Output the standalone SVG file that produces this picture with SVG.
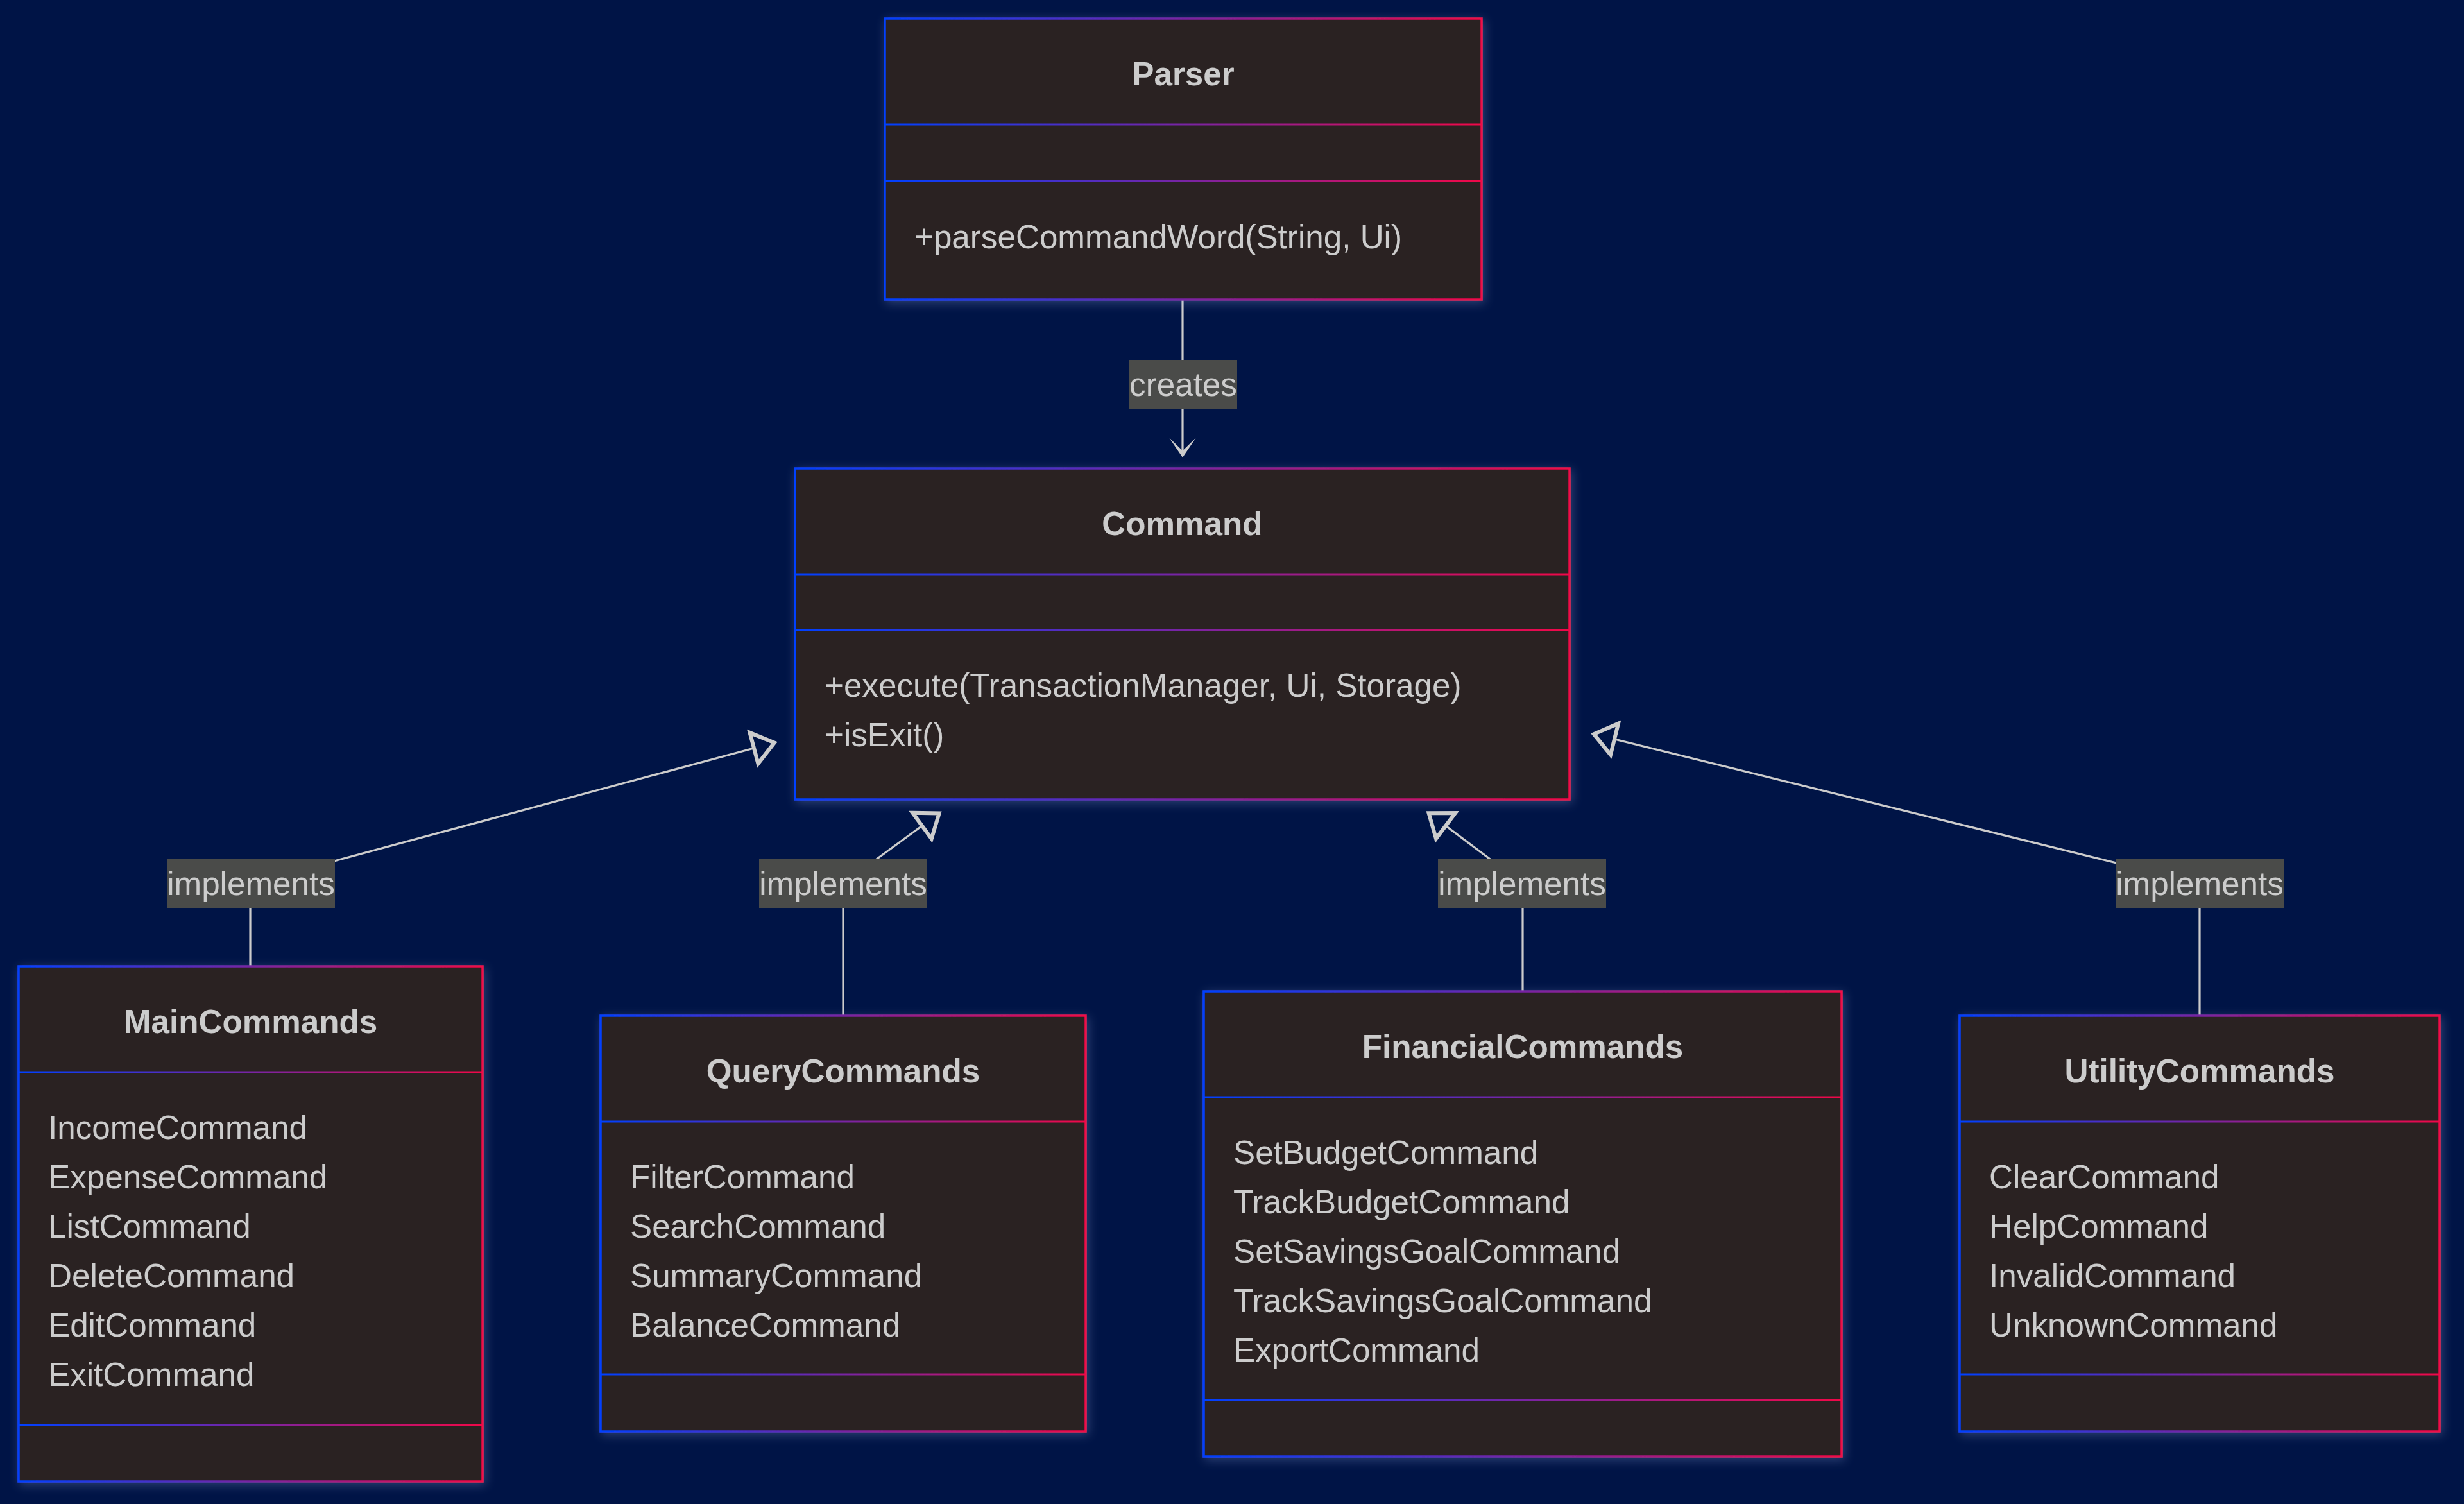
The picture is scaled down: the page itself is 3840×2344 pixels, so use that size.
<svg xmlns="http://www.w3.org/2000/svg" width="3840" height="2344" viewBox="0 0 3840 2344">
  <defs>
    <linearGradient id="edgeGrad" x1="0" y1="0" x2="1" y2="0">
      <stop offset="0" stop-color="#0040ff"/>
      <stop offset="1" stop-color="#f00848"/>
    </linearGradient>
    <filter id="glow" x="-10%" y="-10%" width="120%" height="120%">
      <feGaussianBlur in="SourceAlpha" stdDeviation="8" result="blur"/>
      <feOffset in="blur" dx="3" dy="4" result="off"/>
      <feFlood flood-color="#9fb2e8" flood-opacity="0.28"/>
      <feComposite in2="off" operator="in" result="shadow"/>
      <feMerge>
        <feMergeNode in="shadow"/>
        <feMergeNode in="SourceGraphic"/>
      </feMerge>
    </filter>
    <!-- hollow triangle for "implements" (realisation) -->
    <marker id="extension" markerUnits="userSpaceOnUse" viewBox="-6 -34 48 68" refX="0" refY="0" markerWidth="48" markerHeight="68" orient="auto">
      <path d="M0,-25 L33,0 L0,25 Z" fill="#001446" stroke="#cccccc" stroke-width="6" stroke-linejoin="miter"/>
    </marker>
    <!-- filled open-chevron head for "creates" (dependency) -->
    <marker id="dependency" markerUnits="userSpaceOnUse" viewBox="-26 -24 36 48" refX="0" refY="0" markerWidth="36" markerHeight="48" orient="auto">
      <path d="M8,0 L-23,-21 L-2.5,0 L-23,21 Z" fill="#cccccc"/>
    </marker>
    <style>
      .box { fill: #2a2020; stroke: url(#edgeGrad); stroke-width: 3.5; }
      .sep { fill: url(#edgeGrad); }
      .title { font-family: "Liberation Sans", Arial, sans-serif; font-weight: bold; font-size: 51.2px; fill: #cccccc; text-anchor: middle; }
      .member { font-family: "Liberation Sans", Arial, sans-serif; font-size: 51.2px; fill: #cccccc; }
      .edge { fill: none; stroke: #cccccc; stroke-width: 3.2; }
      .lbl-bg { fill: #4a4b49; }
      .lbl { font-family: "Liberation Sans", Arial, sans-serif; font-size: 51.2px; fill: #cccccc; text-anchor: middle; }
    </style>
  </defs>

  <rect x="0" y="0" width="3840" height="2344" fill="#001446"/>

  <!-- connectors and their labels -->
  <g id="connectors">
    <path class="edge" d="M1843,467 L1843,705" marker-end="url(#dependency)"/>
    <path class="edge" d="M390,1506 L390,1377 L1175,1166" marker-end="url(#extension)"/>
    <path class="edge" d="M1314,1583 L1314,1377 L1437,1287" marker-end="url(#extension)"/>
    <path class="edge" d="M2373,1545 L2373,1377 L2253,1287" marker-end="url(#extension)"/>
    <path class="edge" d="M3428,1583 L3428,1377 L2516,1152" marker-end="url(#extension)"/>

    <g id="label-creates">
      <rect class="lbl-bg" x="1760" y="561" width="168" height="76"/>
      <text class="lbl" x="1844" y="617">creates</text>
    </g>
    <g id="label-main">
      <rect class="lbl-bg" x="260" y="1339" width="262" height="76"/>
      <text class="lbl" x="391" y="1395">implements</text>
    </g>
    <g id="label-query">
      <rect class="lbl-bg" x="1183" y="1339" width="262" height="76"/>
      <text class="lbl" x="1314" y="1395">implements</text>
    </g>
    <g id="label-financial">
      <rect class="lbl-bg" x="2241" y="1339" width="262" height="76"/>
      <text class="lbl" x="2372" y="1395">implements</text>
    </g>
    <g id="label-utility">
      <rect class="lbl-bg" x="3297" y="1339" width="262" height="76"/>
      <text class="lbl" x="3428" y="1395">implements</text>
    </g>
  </g>

  <!-- Parser -->
  <g id="Parser">
    <rect class="box" x="1379" y="29" width="930" height="438" filter="url(#glow)"/>
    <rect class="sep" x="1379" y="192.5" width="930" height="3"/>
    <rect class="sep" x="1379" y="280.5" width="930" height="3"/>
    <text class="title" x="1844" y="133">Parser</text>
    <text class="member" x="1425" y="387">+parseCommandWord(String, Ui)</text>
  </g>

  <!-- Command -->
  <g id="Command">
    <rect class="box" x="1239" y="730" width="1207" height="516" filter="url(#glow)"/>
    <rect class="sep" x="1239" y="893.5" width="1207" height="3"/>
    <rect class="sep" x="1239" y="980.5" width="1207" height="3"/>
    <text class="title" x="1842.5" y="834">Command</text>
    <text class="member" x="1285" y="1086">+execute(TransactionManager, Ui, Storage)</text>
    <text class="member" x="1285" y="1163">+isExit()</text>
  </g>

  <!-- MainCommands -->
  <g id="MainCommands">
    <rect class="box" x="29" y="1506" width="723" height="803" filter="url(#glow)"/>
    <rect class="sep" x="29" y="1669.5" width="723" height="3"/>
    <rect class="sep" x="29" y="2219.5" width="723" height="3"/>
    <text class="title" x="390.5" y="1610">MainCommands</text>
    <text class="member" x="75" y="1775">IncomeCommand</text>
    <text class="member" x="75" y="1852">ExpenseCommand</text>
    <text class="member" x="75" y="1929">ListCommand</text>
    <text class="member" x="75" y="2006">DeleteCommand</text>
    <text class="member" x="75" y="2083">EditCommand</text>
    <text class="member" x="75" y="2160">ExitCommand</text>
  </g>

  <!-- QueryCommands -->
  <g id="QueryCommands">
    <rect class="box" x="936" y="1583" width="756" height="648" filter="url(#glow)"/>
    <rect class="sep" x="936" y="1746.5" width="756" height="3"/>
    <rect class="sep" x="936" y="2140.5" width="756" height="3"/>
    <text class="title" x="1314" y="1687">QueryCommands</text>
    <text class="member" x="982" y="1852">FilterCommand</text>
    <text class="member" x="982" y="1929">SearchCommand</text>
    <text class="member" x="982" y="2006">SummaryCommand</text>
    <text class="member" x="982" y="2083">BalanceCommand</text>
  </g>

  <!-- FinancialCommands -->
  <g id="FinancialCommands">
    <rect class="box" x="1876" y="1545" width="994" height="725" filter="url(#glow)"/>
    <rect class="sep" x="1876" y="1708.5" width="994" height="3"/>
    <rect class="sep" x="1876" y="2180.5" width="994" height="3"/>
    <text class="title" x="2373" y="1649">FinancialCommands</text>
    <text class="member" x="1922" y="1814">SetBudgetCommand</text>
    <text class="member" x="1922" y="1891">TrackBudgetCommand</text>
    <text class="member" x="1922" y="1968">SetSavingsGoalCommand</text>
    <text class="member" x="1922" y="2045">TrackSavingsGoalCommand</text>
    <text class="member" x="1922" y="2122">ExportCommand</text>
  </g>

  <!-- UtilityCommands -->
  <g id="UtilityCommands">
    <rect class="box" x="3054" y="1583" width="748" height="648" filter="url(#glow)"/>
    <rect class="sep" x="3054" y="1746.5" width="748" height="3"/>
    <rect class="sep" x="3054" y="2140.5" width="748" height="3"/>
    <text class="title" x="3428" y="1687">UtilityCommands</text>
    <text class="member" x="3100" y="1852">ClearCommand</text>
    <text class="member" x="3100" y="1929">HelpCommand</text>
    <text class="member" x="3100" y="2006">InvalidCommand</text>
    <text class="member" x="3100" y="2083">UnknownCommand</text>
  </g>
</svg>
